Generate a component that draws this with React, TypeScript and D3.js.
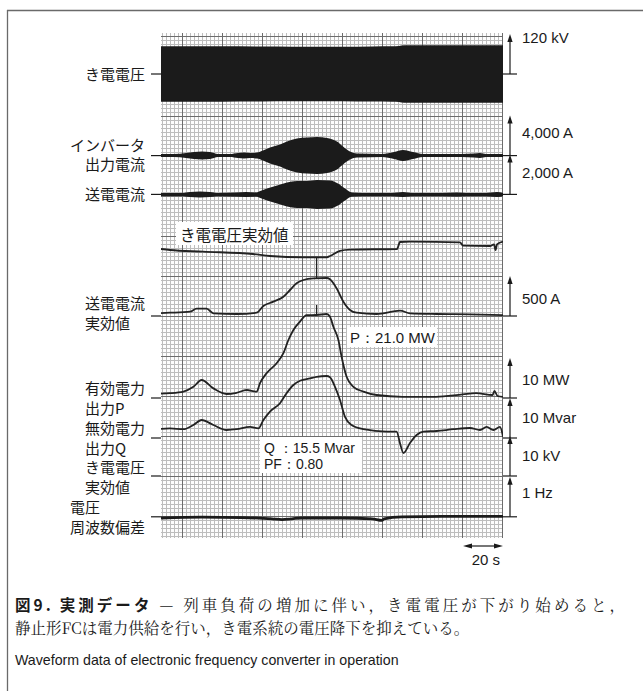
import React from 'react';
import * as d3 from 'd3';

// ---- recorded channels (time in seconds) ----
// Feeder voltage: peak envelope of the AC waveform (kV)
const voltTime = [-10.5, 20, 40, 55, 70, 80, 95, 105, 108.5, 111, 140, 160.5];
const voltPeakKV = [83, 83, 82.5, 82, 81.5, 81.5, 82.5, 83, 84, 86, 86, 86];

// Inverter output current: peak envelope (A)
const invTime = [-10.5, -4, 2, 6, 10, 14, 18, 24, 28, 31, 34, 37.5, 40.5, 44, 49, 52.5, 57.5, 62.5, 67.5, 72.5, 77.5, 80.5, 84, 87.5, 100, 106, 110.5, 115.5, 120.5, 140, 146, 149, 152, 160.5];
const invPeakA = [150, 150, 250, 350, 400, 350, 150, 150, 250, 300, 250, 300, 500, 800, 1100, 1400, 1700, 1800, 1850, 1750, 1400, 900, 400, 200, 150, 350, 550, 350, 150, 150, 200, 250, 150, 150];

// Transmission current: peak envelope (A)
const sendTime = [-10.5, 0, 4, 9, 14, 18, 27, 32, 37, 38.5, 42.5, 47.5, 52.5, 57.5, 62.5, 67.5, 74, 78, 81.5, 85, 90, 105, 110.5, 115, 130, 137.5, 142, 152, 157.5, 160.5];
const sendPeakA = [75, 75, 125, 150, 125, 75, 100, 125, 100, 150, 300, 450, 600, 675, 675, 725, 700, 550, 300, 100, 75, 75, 125, 75, 75, 100, 75, 75, 125, 75];

// Feeder voltage RMS (kV)
const vrmsTime = [-10.5, -6, 10.5, 35.5, 44, 60.5, 72.5, 74, 79, 84, 107.5, 109, 114, 139, 140.5, 154, 156, 156.8, 157.5, 160.5];
const vrmsKV = [56.75, 56.5, 56.1, 55.5, 55.0, 54.7, 54.7, 55.0, 56.3, 56.6, 56.75, 58.5, 58.6, 58.4, 57.6, 57.5, 57.9, 56.5, 57.9, 58.6];

// Transmission current RMS (A)
const irmsTime = [-10.5, -6, 4, 7.3, 12.3, 15.7, 27.3, 37.3, 40.7, 45.7, 50.7, 54, 57.3, 60.7, 65.7, 72.3, 74, 77.3, 80.7, 84, 87.3, 97.3, 109, 114, 127.3, 144, 160.5];
const irmsA = [37, 41, 54, 91, 91, 34, 25, 41, 125, 179, 241, 325, 409, 450, 471, 475, 459, 346, 179, 75, 41, 25, 66, 34, 25, 21, 12];

// Active power output P (MW)
const pTime = [-10.5, -6, 0.7, 5.7, 9.8, 15.7, 22.3, 27.3, 32.3, 37.3, 39, 42.3, 47.3, 50.7, 53.2, 55.7, 59, 62.3, 67.3, 72.3, 74, 75.7, 78.2, 79.8, 82.3, 85.7, 90.7, 97.3, 110.3, 127, 140.3, 147, 155.3, 156.2, 157.8, 160.5];
const pMW = [1.1, 1.2, 1.6, 2.8, 4.5, 2.4, 1.0, 1.3, 2.0, 1.6, 3.7, 6.2, 8.7, 11.2, 14.5, 17.0, 19.1, 20.7, 20.75, 21.0, 20.3, 17.8, 14.5, 10.3, 5.3, 2.8, 1.6, 0.75, 0.3, 0.3, 0.9, 1.2, 0.75, 1.75, 0.5, 0.3];

// Reactive power output Q (Mvar)
const qTime = [-10.5, -6, 0.7, 5.7, 9.8, 15.7, 22.3, 27.3, 34, 38.2, 40.7, 44, 49, 52.3, 55.7, 59, 64, 67.3, 72.3, 74, 76.5, 79, 81.5, 84.8, 90.7, 102.3, 107.3, 109, 110.7, 114, 117.3, 120.7, 127.3, 135.7, 144, 149, 152.3, 155.7, 159, 160.5];
const qMvar = [2.3, 2.4, 2.2, 3.25, 4.5, 3.25, 2.0, 2.2, 2.8, 2.4, 4.5, 6.6, 8.7, 11.2, 13.25, 14.3, 14.9, 15.3, 15.5, 15.2, 12.8, 9.5, 5.3, 3.25, 2.2, 1.6, 1.6, -1.3, -3.75, -1.25, 0.75, 1.6, 1.75, 2.2, 2.5, 2.0, 2.8, 2.0, 2.8, 0.3];

// Voltage frequency deviation (Hz)
const freqTime = [-10.5, 10, 30, 45, 50, 55, 60, 80, 95, 100, 101, 110, 130, 160.5];
const freqHz = [-0.03, -0.01, -0.02, -0.05, -0.07, -0.05, -0.03, -0.03, -0.05, -0.09, -0.05, 0, 0.01, 0.01];

// Full-scale values of the recorder channels (per division)
const scaleLabels = ['120 kV', '4,000 A', '2,000 A', '500 A', '10 MW', '10 Mvar', '10 kV', '1 Hz'];
const scalePerDiv = [120, 4000, 2000, 500, 10, 10, 10, 1];

// Annotated peak values
const peakP = 21.0;
const peakQ = 15.5;
const powerFactor = 0.8;
const markerTime = 67.3;
const timeBarSeconds = 20;

const W = 643;
const H = 691;
const PLOT = { left: 161, right: 503, top: 33, bottom: 538 };
const JP = "'Noto Sans CJK JP', 'Noto Sans', sans-serif";
const JP_SERIF = "'Noto Serif CJK JP', 'Noto Sans CJK JP', serif";
const LAT = "'Liberation Sans', Arial, sans-serif";
const INK = '#222';

const App = () => {
  const x = d3.scaleLinear().domain([-10.5, 160.5]).range([PLOT.left, PLOT.right]);
  const div = d3.scaleLinear().domain([0, 12]).range([36, 516]);
  const chan = (base: number, perDiv: number) =>
    d3.scaleLinear().domain([0, perDiv]).range([div(base), div(base - 1)]);

  const yVolt = chan(0.95, scalePerDiv[0]);
  const yInv = chan(2.99, scalePerDiv[1]);
  const ySend = chan(3.96, scalePerDiv[2]);
  const yIrms = chan(7, scalePerDiv[3]);
  const yP = chan(9.05, scalePerDiv[4]);
  const yQ = chan(10.05, scalePerDiv[5]);
  const yVrms = chan(11, scalePerDiv[6]);
  const yFreq = chan(12.02, scalePerDiv[7]);

  const zip = (t: number[], v: number[]) => t.map((ti, i) => [ti, v[i]] as [number, number]);

  const envelope = (y: d3.ScaleLinear<number, number>) =>
    d3.area<[number, number]>()
      .x((d) => x(d[0]))
      .y0((d) => y(-d[1]))
      .y1((d) => y(d[1]))
      .curve(d3.curveMonotoneX);

  const trace = (y: d3.ScaleLinear<number, number>) =>
    d3.line<[number, number]>()
      .x((d) => x(d[0]))
      .y((d) => y(d[1]))
      .curve(d3.curveMonotoneX);

  // grid
  const vMinor = d3.range(-10, 161, 2).filter((t) => t % 20 !== 0);
  const vMajor = d3.range(0, 161, 20);
  const hAll = d3.range(0, 126).map((k) => k / 10);
  const hMinor = hAll.filter((d) => Math.abs(d - Math.round(d)) > 1e-6);
  const hMajor = d3.range(0, 13);

  // channel bases for scale bars and left labels
  const bases = [yVolt(0), yInv(0), ySend(0), yIrms(0), yP(0), yQ(0), yVrms(0), yFreq(0)];
  const labelRise = [37, 23, 22, 18, 19, 21, 21, 24];

  const leftLabels: { lines: string[]; base: number; align: 'start' | 'end'; dy: number[] }[] = [
    { lines: ['き電電圧'], base: bases[0], align: 'end', dy: [-1] },
    { lines: ['インバータ', '出力電流'], base: bases[1], align: 'end', dy: [-11, 8] },
    { lines: ['送電電流'], base: bases[2], align: 'end', dy: [-1] },
    { lines: ['送電電流', '実効値'], base: bases[3], align: 'start', dy: [-14, 6] },
    { lines: ['有効電力', '出力P'], base: bases[4], align: 'start', dy: [-11, 9] },
    { lines: ['無効電力', '出力Q'], base: bases[5], align: 'start', dy: [-11, 9] },
    { lines: ['き電電圧', '実効値'], base: bases[6], align: 'start', dy: [-10, 10] },
    { lines: ['電圧', '周波数偏差'], base: bases[7], align: 'start', dy: [-10, 10] },
  ];
  const LABEL_FS = 15;
  const labelRight = 145;

  const vAt = d3.scaleLinear().domain(vrmsTime).range(vrmsKV);
  const iAt = d3.scaleLinear().domain(irmsTime).range(irmsA);
  const pAt = d3.scaleLinear().domain(pTime).range(pMW);

  const barY = 546;
  const barX0 = x(160.5 - timeBarSeconds);
  const barX1 = x(160.5);

  return (
    <svg width={W} height={H} style={{ position: 'absolute', left: 0, top: 0, background: '#fff' }}>
      <defs>
        <clipPath id="plotClip">
          <rect x={PLOT.left} y={PLOT.top} width={PLOT.right - PLOT.left} height={PLOT.bottom - PLOT.top} />
        </clipPath>
      </defs>

      {/* frame */}
      <line x1={7} x2={W} y1={10.5} y2={10.5} stroke="#6a6a6a" strokeWidth={1.3} />
      <line x1={7.5} x2={7.5} y1={10} y2={H} stroke="#6a6a6a" strokeWidth={1.3} />

      {/* recorder paper */}
      <g clipPath="url(#plotClip)" shapeRendering="crispEdges">
        <rect x={PLOT.left} y={PLOT.top} width={PLOT.right - PLOT.left} height={PLOT.bottom - PLOT.top} fill="#fdfdfd" />
        {vMinor.map((t) => (
          <line key={'vm' + t} x1={Math.round(x(t)) + 0.5} x2={Math.round(x(t)) + 0.5} y1={PLOT.top} y2={PLOT.bottom} stroke="#bdbdbd" strokeWidth={1} />
        ))}
        {hMinor.map((d) => (
          <line key={'hm' + d} y1={Math.round(div(d)) + 0.5} y2={Math.round(div(d)) + 0.5} x1={PLOT.left} x2={PLOT.right} stroke="#bdbdbd" strokeWidth={1} />
        ))}
        {vMajor.map((t) => (
          <line key={'vM' + t} x1={Math.round(x(t)) + 0.5} x2={Math.round(x(t)) + 0.5} y1={PLOT.top} y2={PLOT.bottom} stroke="#6c6c6c" strokeWidth={1.5} />
        ))}
        {hMajor.map((d) => (
          <line key={'hM' + d} y1={Math.round(div(d)) + 0.5} y2={Math.round(div(d)) + 0.5} x1={PLOT.left} x2={PLOT.right} stroke="#6c6c6c" strokeWidth={1.5} />
        ))}
      </g>

      {/* traces */}
      <g clipPath="url(#plotClip)">
        <path d={envelope(yVolt)(zip(voltTime, voltPeakKV)) || ''} fill="#1b1b1b" />
        <path d={envelope(yInv)(zip(invTime, invPeakA)) || ''} fill="#1b1b1b" />
        <path d={envelope(ySend)(zip(sendTime, sendPeakA)) || ''} fill="#1b1b1b" />
        <path d={trace(yVrms)(zip(vrmsTime, vrmsKV)) || ''} fill="none" stroke={INK} strokeWidth={1.9} />
        <path d={trace(yIrms)(zip(irmsTime, irmsA)) || ''} fill="none" stroke={INK} strokeWidth={1.8} />
        <path d={trace(yP)(zip(pTime, pMW)) || ''} fill="none" stroke={INK} strokeWidth={1.8} />
        <path d={trace(yQ)(zip(qTime, qMvar)) || ''} fill="none" stroke={INK} strokeWidth={1.8} />
        <path d={trace(yFreq)(zip(freqTime, freqHz)) || ''} fill="none" stroke="#1b1b1b" strokeWidth={2.8} />
        {/* timing marker */}
        <line x1={x(markerTime)} x2={x(markerTime)} y1={yVrms(vAt(markerTime))} y2={yIrms(iAt(markerTime))} stroke={INK} strokeWidth={1.3} />
        <line x1={x(markerTime)} x2={x(markerTime)} y1={yP(pAt(markerTime) + 2.5)} y2={yP(pAt(markerTime))} stroke={INK} strokeWidth={1.3} />
      </g>

      {/* annotation boxes */}
      <g fontFamily={JP} fill="#1a1a1a">
        <rect x={176} y={222} width={117} height={23} fill="#fff" />
        <text x={180} y={234} fontSize={15.5} dominantBaseline="central">き電電圧実効値</text>

        <rect x={347} y={327} width={90} height={20} fill="#fff" />
        <text x={350} y={337} fontSize={15} dominantBaseline="central" fontFamily={LAT}>
          {`P：${peakP.toFixed(1)} MW`}
        </text>

        <rect x={260} y={437} width={102} height={36} fill="#fff" />
        <text x={264} y={448} fontSize={14} dominantBaseline="central" fontFamily={LAT}>
          {`Q ：${peakQ.toFixed(1)} Mvar`}
        </text>
        <text x={264} y={464} fontSize={14} dominantBaseline="central" fontFamily={LAT}>
          {`PF：${powerFactor.toFixed(2)}`}
        </text>
      </g>

      {/* full-scale bars */}
      <g stroke="#1a1a1a" fill="#1a1a1a">
        {bases.map((b, i) => {
          const top = b - (div(1) - div(0));
          return (
            <g key={'bar' + i}>
              <line x1={510} x2={510} y1={b} y2={top + 6} strokeWidth={1.2} />
              <path d={`M510,${top} L507.4,${top + 8} L512.6,${top + 8} Z`} stroke="none" />
              <line x1={503} x2={517} y1={b} y2={b} strokeWidth={1.2} />
              <text x={522} y={b - labelRise[i]} fontSize={15} fontFamily={LAT} stroke="none" fill="#1a1a1a" dominantBaseline="central">
                {scaleLabels[i]}
              </text>
            </g>
          );
        })}
      </g>

      {/* channel names */}
      <g fontFamily={JP} fontSize={LABEL_FS} fill="#1a1a1a">
        {leftLabels.map((lb, i) => {
          const widest = d3.max(lb.lines, (s) => s.length) || 1;
          const startX = labelRight - widest * LABEL_FS;
          return (
            <g key={'lab' + i}>
              <line x1={151} x2={161} y1={lb.base} y2={lb.base} stroke="#1a1a1a" strokeWidth={1.2} />
              {lb.lines.map((s, j) => (
                <text
                  key={j}
                  x={lb.align === 'end' ? labelRight : startX}
                  y={lb.base + lb.dy[j]}
                  textAnchor={lb.align === 'end' ? 'end' : 'start'}
                  dominantBaseline="central"
                >
                  {s}
                </text>
              ))}
            </g>
          );
        })}
      </g>

      {/* time bar */}
      <g stroke="#1a1a1a" fill="#1a1a1a">
        <line x1={barX0 + 4} x2={barX1 - 4} y1={barY} y2={barY} strokeWidth={1.2} />
        <path d={`M${barX0},${barY} L${barX0 + 9},${barY - 2.6} L${barX0 + 9},${barY + 2.6} Z`} stroke="none" />
        <path d={`M${barX1},${barY} L${barX1 - 9},${barY - 2.6} L${barX1 - 9},${barY + 2.6} Z`} stroke="none" />
        <text x={barX1 - 3} y={559} textAnchor="end" fontSize={15} fontFamily={LAT} stroke="none" dominantBaseline="central">
          {`${timeBarSeconds} s`}
        </text>
      </g>

      {/* caption */}
      <text x={15} y={604} fontSize={15.5} dominantBaseline="central" textLength={610} lengthAdjust="spacing" fill="#1a1a1a">
        <tspan fontFamily={JP} fontWeight={700}>図9.</tspan>
        <tspan fontFamily={JP} fontWeight={700} dx={6}>実測データ</tspan>
        <tspan fontFamily={JP_SERIF}> — 列車負荷の増加に伴い，き電電圧が下がり始めると，</tspan>
      </text>
      <text x={15} y={627} fontSize={15.5} dominantBaseline="central" fontFamily={JP_SERIF} fill="#1a1a1a">
        静止形FCは電力供給を行い，き電系統の電圧降下を抑えている。
      </text>
      <text x={15} y={660} fontSize={14.2} dominantBaseline="central" fontFamily={LAT} fill="#1a1a1a">
        Waveform data of electronic frequency converter in operation
      </text>
    </svg>
  );
};

export default App;
